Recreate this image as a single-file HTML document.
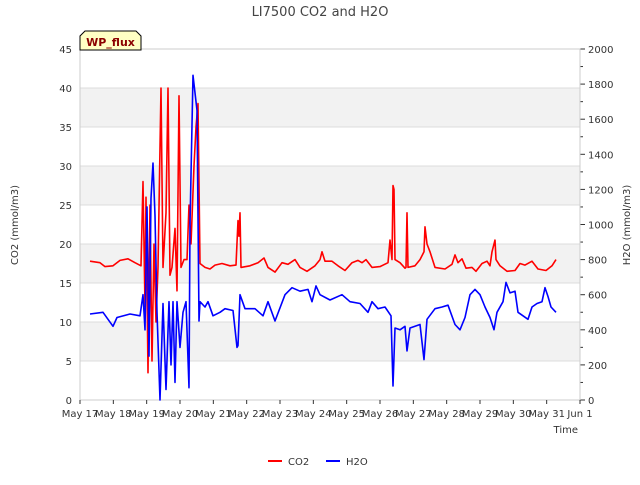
<!DOCTYPE html>
<html><head><meta charset="utf-8"><style>
body{margin:0;background:#fff;}
svg{font-family:"DejaVu Sans","Liberation Sans",sans-serif;}
</style></head><body>
<svg id="c" width="640" height="480" viewBox="0 0 640 480">
<text x="320" y="16" text-anchor="middle" font-size="13" fill="#444">LI7500 CO2 and H2O</text>
<g id="bands"></g><g id="axes"></g><g id="series"></g>
<text x="18" y="225" font-size="10" fill="#333" text-anchor="middle" transform="rotate(-90 18 225)">CO2 (mmol/m3)</text>
<text x="630" y="225" font-size="10" fill="#333" text-anchor="middle" transform="rotate(-90 630 225)">H2O (mmol/m3)</text>
<text x="578" y="433" font-size="10" fill="#333" text-anchor="end">Time</text>
<g>
<path d="M80,50 L80,36 L85,31 L136,31 L141,36 L141,50 Z" fill="#ffffc4" stroke="#000" stroke-width="1"/>
<text x="110.5" y="46" font-size="11" font-weight="bold" fill="#8b0000" text-anchor="middle">WP_flux</text>
</g>
<g>
<g><line x1="268" y1="461" x2="282" y2="461" stroke="#f00" stroke-width="2"/><text x="288" y="465" font-size="10" fill="#333">CO2</text></g>
<g><line x1="326" y1="461" x2="340" y2="461" stroke="#00f" stroke-width="2"/><text x="346" y="465" font-size="10" fill="#333">H2O</text></g>
</g>
</svg>
<script>
const xLabels=["May 17","May 18","May 19","May 20","May 21","May 22","May 23","May 24","May 25","May 26","May 27","May 28","May 29","May 30","May 31","Jun 1"];
const co2Ticks=[0,5,10,15,20,25,30,35,40,45];
const h2oTicks=[0,200,400,600,800,1000,1200,1400,1600,1800,2000];
const co2Days=[0.3,0.6,0.75,0.99,1.2,1.44,1.65,1.83,1.89,1.95,1.98,2.04,2.1,2.16,2.22,2.28,2.34,2.43,2.49,2.58,2.64,2.7,2.76,2.85,2.91,2.97,3.03,3.12,3.21,3.27,3.33,3.42,3.48,3.54,3.6,3.75,3.9,4.05,4.26,4.5,4.68,4.74,4.77,4.8,4.83,5.1,5.34,5.52,5.64,5.85,6.06,6.24,6.45,6.6,6.81,7.05,7.2,7.26,7.35,7.56,7.74,7.95,8.16,8.34,8.46,8.58,8.76,9.0,9.24,9.3,9.36,9.39,9.42,9.45,9.6,9.75,9.78,9.81,9.84,10.05,10.2,10.32,10.35,10.41,10.5,10.65,10.95,11.16,11.25,11.34,11.46,11.58,11.76,11.88,12.06,12.21,12.3,12.36,12.45,12.48,12.6,12.81,13.05,13.2,13.35,13.56,13.74,13.98,14.16,14.28];
const co2Values=[17.8,17.6,17.1,17.2,17.9,18.1,17.6,17.2,28,12,26,3.5,25,5,20,10,17,40,17,24,40,16,17,22,14,39,17,18,18,25,20,30,35,38,17.5,17,16.8,17.3,17.5,17.2,17.3,23,21,24,17,17.2,17.6,18.2,17,16.4,17.6,17.4,18,17,16.5,17.2,18,19,17.8,17.8,17.2,16.6,17.6,17.9,17.6,18,17,17.1,17.6,20.5,18,27.5,27,18,17.6,16.9,17,24,17,17.2,18,19,22.2,20,19,17,16.8,17.4,18.6,17.6,18.1,16.9,17,16.5,17.5,17.8,17.2,19,20.5,18,17.2,16.5,16.6,17.5,17.3,17.8,16.8,16.6,17.2,18];
const h2oDays=[0.3,0.69,0.99,1.11,1.5,1.8,1.89,1.95,2.01,2.07,2.13,2.19,2.25,2.31,2.4,2.49,2.58,2.67,2.73,2.79,2.85,2.91,3.0,3.09,3.18,3.27,3.3,3.39,3.51,3.57,3.6,3.75,3.84,3.99,4.2,4.35,4.59,4.71,4.74,4.8,4.95,5.25,5.49,5.64,5.85,6.15,6.36,6.6,6.84,6.96,7.08,7.2,7.5,7.86,8.1,8.4,8.64,8.76,8.94,9.15,9.33,9.39,9.45,9.6,9.75,9.81,9.9,10.2,10.32,10.41,10.65,10.86,11.04,11.25,11.4,11.55,11.7,11.85,12.0,12.15,12.3,12.42,12.51,12.69,12.78,12.9,13.05,13.14,13.29,13.44,13.56,13.71,13.86,13.95,14.04,14.13,14.28];
const h2oValues=[490,500,420,470,490,480,600,400,1100,250,1150,1350,1050,500,0,550,60,560,200,560,100,560,300,500,560,70,1000,1850,1650,450,560,530,560,480,500,520,510,300,310,600,520,520,480,560,450,600,640,620,630,560,650,600,570,600,560,550,500,560,520,530,480,80,410,400,420,280,410,430,230,460,520,530,540,430,400,470,600,630,600,530,470,400,500,560,670,610,620,500,480,460,530,550,560,640,590,530,500];
const NS="http://www.w3.org/2000/svg";
const L=80,R=580,T=49,B=400;
const xs=d=>L+(R-L)*d/15;
const yL=v=>B-(B-T)*v/45;
const yR=v=>B-(B-T)*v/2000;
function mk(tag,attrs,parent){const e=document.createElementNS(NS,tag);for(const k in attrs)e.setAttribute(k,attrs[k]);parent.appendChild(e);return e;}
const bands=document.getElementById('bands'),axes=document.getElementById('axes'),series=document.getElementById('series');
for(let i=0;i<co2Ticks.length-1;i++){
  if(i%2===1){const r=mk('rect',{x:L,y:yL(co2Ticks[i+1]),width:R-L,height:yL(co2Ticks[i])-yL(co2Ticks[i+1]),fill:'#f2f2f2'},bands);
  
  }
}
co2Ticks.forEach(v=>{
  const g=mk('line',{x1:L,x2:R,y1:yL(v),y2:yL(v),stroke:'#dcdcdc','stroke-width':1},bands);
  
  
  const t=mk('text',{x:L-8,y:yL(v)+4,'font-size':10,fill:'#333','text-anchor':'end'},axes);t.textContent=v;
  
  
});
h2oTicks.forEach((v,i)=>{
  mk('line',{x1:R,x2:R+5,y1:yR(v),y2:yR(v),stroke:'#333'},axes);
  if(i<h2oTicks.length-1){const m=(v+h2oTicks[i+1])/2;mk('line',{x1:R,x2:R+3,y1:yR(m),y2:yR(m),stroke:'#333'},axes);}
  const t=mk('text',{x:R+8,y:yR(v)+4,'font-size':10,fill:'#333'},axes);t.textContent=v;
  
  
});
mk('rect',{x:L,y:T,width:R-L,height:B-T,fill:'none',stroke:'#ccc'},axes);
xLabels.forEach((s,i)=>{
  mk('line',{x1:xs(i),x2:xs(i),y1:B,y2:B+4,stroke:'#333'},axes);
  const t=mk('text',{x:xs(i),y:B+17,'font-size':10,fill:'#333','text-anchor':'middle'},axes);t.textContent=s;
  
  
});
function line(days,vals,yf,color,name){
  const p=mk('polyline',{points:days.map((d,i)=>xs(d).toFixed(1)+','+yf(vals[i]).toFixed(1)).join(' '),fill:'none',stroke:color,'stroke-width':1.6,'stroke-linejoin':'round'},series);
  
  
}
line(co2Days,co2Values,yL,'#ff0000','co2-line');
line(h2oDays,h2oValues,yR,'#0000ff','h2o-line');
</script>
</body></html>
